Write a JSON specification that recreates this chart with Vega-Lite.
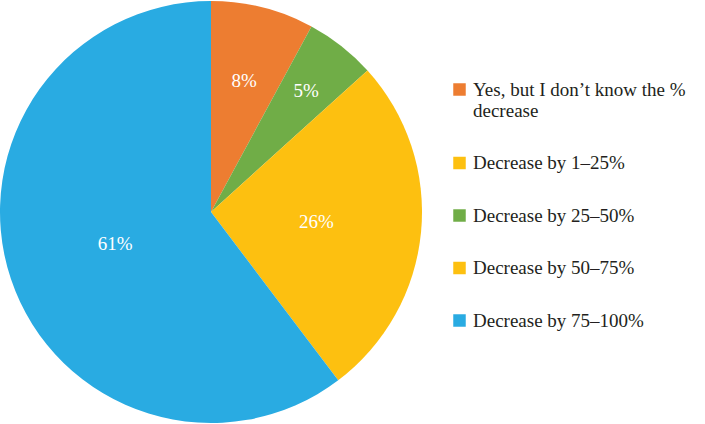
{
  "$schema": "https://vega.github.io/schema/vega-lite/v6.json",
  "width": 422,
  "height": 424,
  "autosize": "none",
  "padding": {"left": 0, "top": 0, "right": 283, "bottom": 0},
  "background": "white",
  "view": {"stroke": null},
  "data": {
    "values": [
      {"category": "Yes, but I don’t know the % decrease", "value": 7.9, "label": "8%", "rank": 1},
      {"category": "Decrease by 1–25%", "value": 0, "label": "", "rank": 2},
      {"category": "Decrease by 25–50%", "value": 5.4, "label": "5%", "rank": 3},
      {"category": "Decrease by 50–75%", "value": 26.4, "label": "26%", "rank": 4},
      {"category": "Decrease by 75–100%", "value": 60.3, "label": "61%", "rank": 5}
    ]
  },
  "encoding": {
    "theta": {"field": "value", "type": "quantitative", "stack": true},
    "order": {"field": "rank", "type": "quantitative"}
  },
  "layer": [
    {
      "mark": {"type": "arc", "outerRadius": 211},
      "encoding": {
        "color": {
          "field": "category",
          "type": "nominal",
          "sort": null,
          "scale": {
            "domain": ["Yes, but I don’t know the % decrease", "Decrease by 1–25%", "Decrease by 25–50%", "Decrease by 50–75%", "Decrease by 75–100%"],
            "range": ["#ED7D31", "#FDC010", "#70AD47", "#FDC010", "#29ABE2"]
          },
          "legend": {
            "orient": "none",
            "legendX": 450,
            "legendY": 80,
            "title": null,
            "padding": 0,
            "symbolType": "square",
            "symbolSize": 156,
            "symbolStrokeWidth": 0,
            "labelFont": "Times New Roman, Liberation Serif, serif",
            "labelFontSize": 19,
            "labelLineHeight": 22,
            "labelColor": "#231F20",
            "labelOffset": 4,
            "labelLimit": 300,
            "rowPadding": 32.5,
            "labelExpr": "datum.label == 'Yes, but I don’t know the % decrease' ? ['Yes, but I don’t know the %', 'decrease'] : datum.label"
          }
        }
      }
    },
    {
      "mark": {"type": "text", "font": "Times New Roman, Liberation Serif, serif", "fontSize": 19, "color": "white"},
      "encoding": {
        "text": {"field": "label"},
        "radius": {
          "field": "value",
          "type": "quantitative",
          "scale": {"type": "linear", "zero": false, "domain": [5.4, 7.9, 26.4, 60.3], "range": [154, 135, 106, 101]}
        }
      }
    }
  ]
}
